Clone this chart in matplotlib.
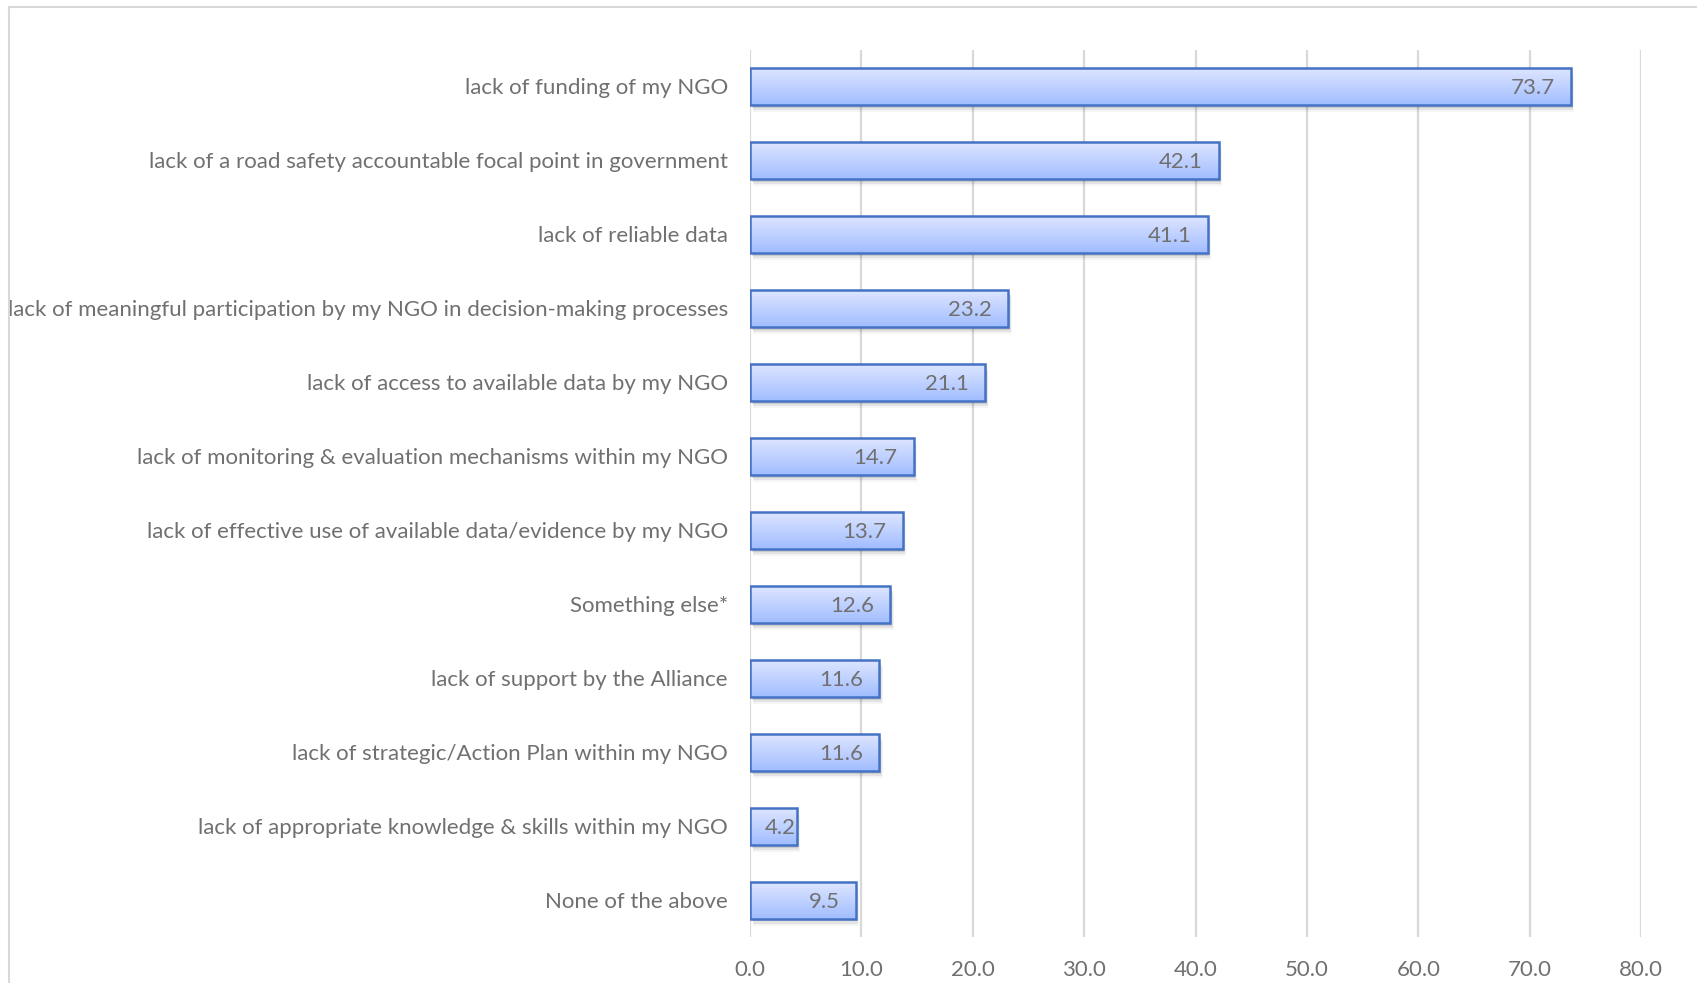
import numpy as np
import matplotlib
matplotlib.use("Agg")
import matplotlib.pyplot as plt
from matplotlib.patches import Rectangle
from matplotlib.lines import Line2D

categories = [
    "lack of funding of my NGO",
    "lack of a road safety accountable focal point in government",
    "lack of reliable data",
    "lack of meaningful participation by my NGO in decision-making processes",
    "lack of access to available data by my NGO",
    "lack of monitoring & evaluation mechanisms within my NGO",
    "lack of effective use of available data/evidence by my NGO",
    "Something else*",
    "lack of support by the Alliance",
    "lack of strategic/Action Plan within my NGO",
    "lack of appropriate knowledge & skills within my NGO",
    "None of the above",
]
values = [73.7, 42.1, 41.1, 23.2, 21.1, 14.7, 13.7, 12.6, 11.6, 11.6, 4.2, 9.5]
xticks = [0, 10, 20, 30, 40, 50, 60, 70, 80]

plt.rcParams["font.family"] = ["Lato", "DejaVu Sans"]
TEXT = "#707070"
FS = 16

W, H = 1697, 983
fig = plt.figure(figsize=(W / 100, H / 100), dpi=100)
ax = fig.add_axes([750 / W, 1 - 937 / H, (1641 - 750) / W, (937 - 49.5) / H])

ypos = np.arange(len(categories))
ax.set_xlim(0, 80)
ax.set_ylim(len(categories) - 0.5, -0.5)

# vertical gridlines
for t in xticks:
    ax.axvline(t, color="#d9d9d9", lw=1.6, zorder=0)

# gradient image used to fill each bar (light at top, deeper blue at bottom)
top = np.array([0.87, 0.90, 1.0])
bot = np.array([0.63, 0.74, 1.0])
grad = np.linspace(0, 1, 64)[:, None, None]
img = top * (1 - grad) + bot * grad

h = 0.5
bars = ax.barh(ypos, values, height=h, facecolor="none", edgecolor="#4472c4",
               linewidth=1.8, zorder=3)
for b, v, y in zip(bars, values, ypos):
    # soft drop shadow
    for k, a in enumerate([0.10, 0.07, 0.04]):
        ax.add_patch(Rectangle((0.15 + 0.08 * k, y - h / 2 + 0.04 + 0.03 * k), v, h,
                               facecolor="#000000", alpha=a, lw=0, zorder=1))
    im = ax.imshow(img, extent=(0, v, y + h / 2, y - h / 2), aspect="auto",
                   zorder=2, interpolation="bilinear")
    clip = Rectangle((0, y - h / 2), v, h, transform=ax.transData)
    im.set_clip_path(clip)
    # value label at the inside end; short bars get it from the base instead
    if v < 6:
        ax.text(1.35, y + 0.02, f"{v:.1f}", ha="left", va="center",
                color=TEXT, fontsize=FS, zorder=4)
    else:
        ax.text(v - 1.45, y + 0.02, f"{v:.1f}", ha="right", va="center",
                color=TEXT, fontsize=FS, zorder=4)

ax.set_yticks(ypos)
ax.set_yticklabels(categories, fontsize=FS, color=TEXT)
ax.set_xticks(xticks)
ax.set_xticklabels([f"{t:.1f}" for t in xticks], fontsize=FS, color=TEXT)
ax.tick_params(axis="both", length=0)
ax.tick_params(axis="y", pad=16)
ax.tick_params(axis="x", pad=16.5)
for s in ax.spines.values():
    s.set_visible(False)

# chart frame lines
fig.add_artist(Line2D([9 / W, 1], [1 - 7 / H, 1 - 7 / H], color="#d9d9d9", lw=1.5,
                      transform=fig.transFigure))
fig.add_artist(Line2D([9 / W, 9 / W], [0, 1 - 7 / H], color="#d9d9d9", lw=1.5,
                      transform=fig.transFigure))

fig.savefig("out.png", dpi=100)
